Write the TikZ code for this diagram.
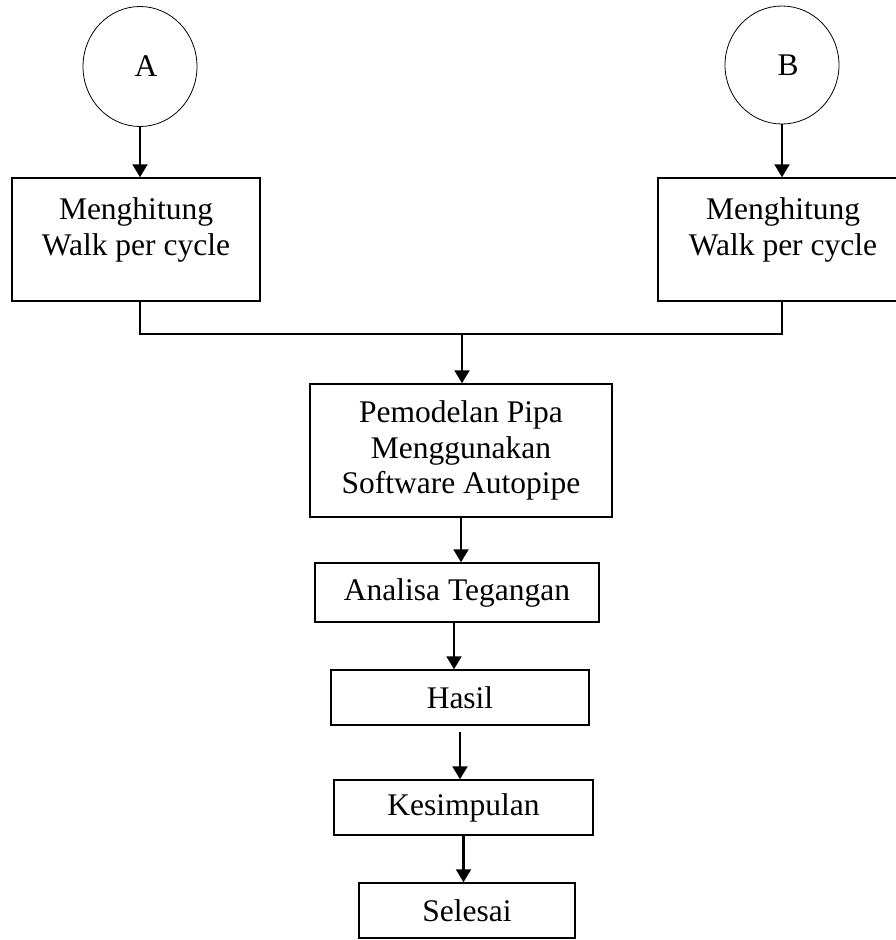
\documentclass[tikz,border=0pt]{standalone}
\usepackage{fontspec}
\setmainfont{Liberation Serif}
\usetikzlibrary{arrows.meta,shapes.geometric}
\tikzset{
  boxnode/.style={draw=black, line width=1.5pt, rectangle, inner sep=0pt, align=center},
  txtnode/.style={inner sep=0pt, align=center},
  conn/.style={draw=black, line width=1.5pt},
  arr/.style={draw=black, line width=2.2pt, -{Triangle[length=13pt,width=15pt]}},
  oval/.style={draw=black, line width=0.8pt, ellipse, inner sep=0pt}
}
\begin{document}
\begin{tikzpicture}[x=1pt,y=-1pt,font=\fontsize{31.5}{35.5}\selectfont]
\useasboundingbox (0,0) rectangle (896,940);
\clip (0,0) rectangle (896,940);
% start circles
\node[oval, minimum width=114, minimum height=120] (A) at (140,66.5) {\hspace{12pt}A};
\node[oval, minimum width=114, minimum height=118] (B) at (782,65) {\hspace{12pt}B};
% first boxes
\node[boxnode, minimum width=248, minimum height=123] (wa) at (136,239.5) {};
\node[txtnode] (wat) at ([yshift=9.5pt]wa.center) {Menghitung\\Walk per cycle};
\node[boxnode, minimum width=250, minimum height=123] (wb) at (783,239.5) {};
\node[txtnode] (wbt) at ([yshift=9.5pt]wb.center) {Menghitung\\Walk per cycle};
% junction
\coordinate (j) at (462,334);
% main column
\node[boxnode, minimum width=302, minimum height=133] (pm) at (461,450.5) {Pemodelan Pipa\\Menggunakan\\Software Autopipe};
\node[boxnode, minimum width=284, minimum height=59] (an) at (457,592.5) {Analisa Tegangan};
\node[boxnode, minimum width=258, minimum height=55] (ha) at (460,697.5) {Hasil};
\node[boxnode, minimum width=259, minimum height=55] (ke) at (463.5,807.5) {Kesimpulan};
\node[boxnode, minimum width=216, minimum height=55] (se) at (467,910.5) {Selesai};
% connectors
\draw[arr] (A.south) -- (A.south |- wa.north);
\draw[arr] (B.south) -- (B.south |- wb.north);
\draw[conn] (A |- wa.south) -- (A |- j) -- (B |- j) -- (B |- wb.south);
\draw[arr] (j) -- (j |- pm.north);
\draw[arr] (pm.south) -- (pm.south |- an.north);
\draw[arr] ([xshift=-3pt]an.south) -- ([xshift=-3pt]an.south |- ha.north);
\draw[arr, shorten <=6pt] (ha.south) -- (ha.south |- ke.north);
\draw[arr] (ke.south) -- (ke.south |- se.north);
\end{tikzpicture}
\end{document}
